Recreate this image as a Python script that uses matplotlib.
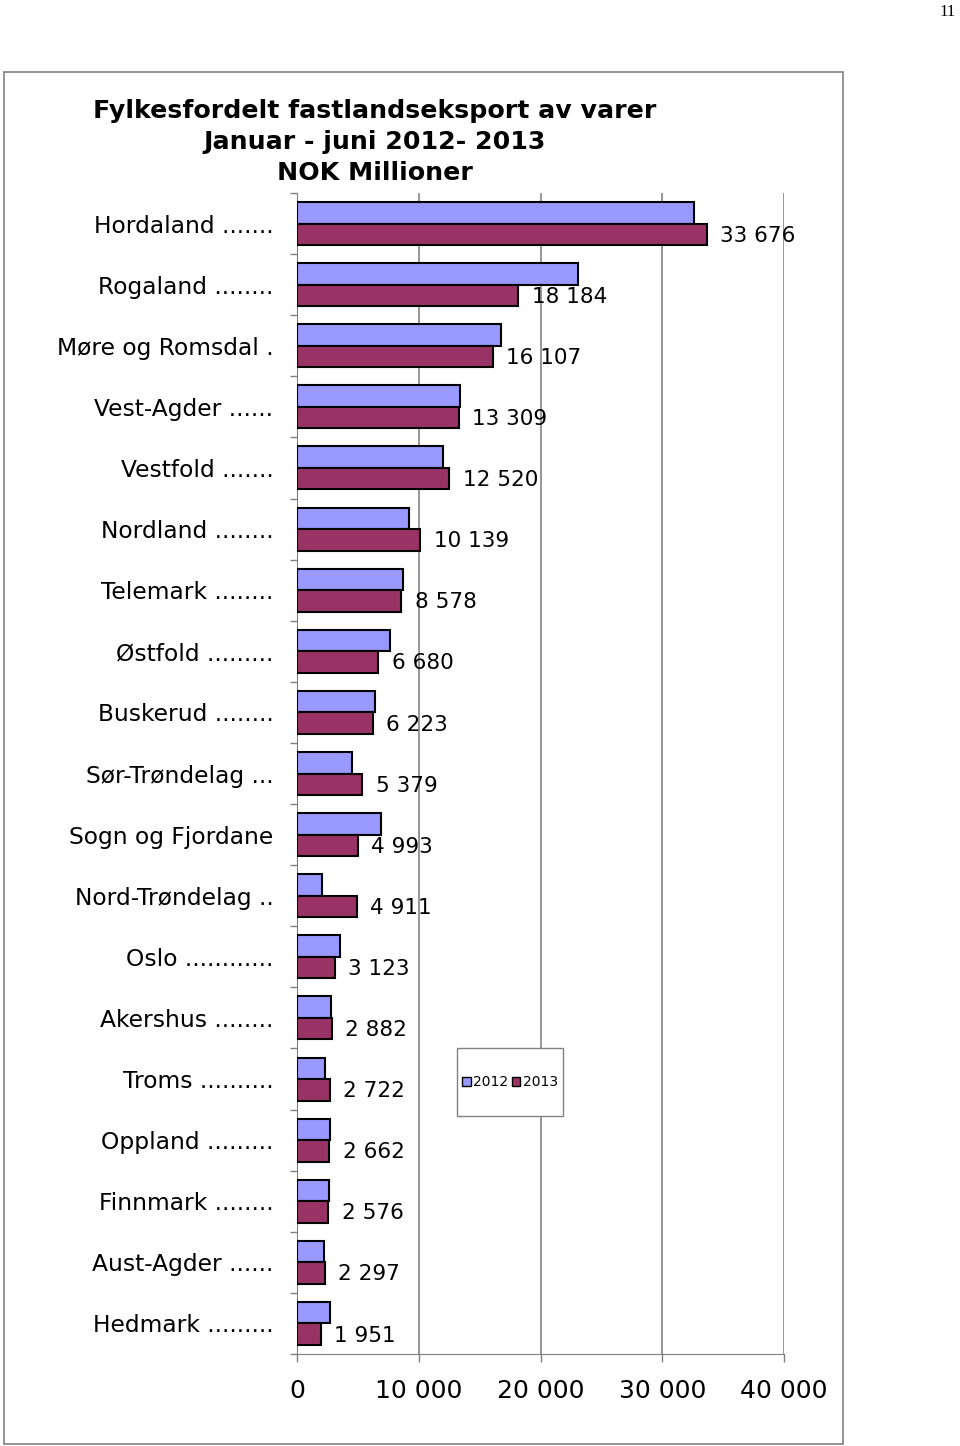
import numpy as np
import matplotlib
matplotlib.use("Agg")
import matplotlib.pyplot as plt
from matplotlib.patches import Rectangle, Patch

fylker = ["Hordaland .......", "Rogaland ........", "Møre og Romsdal .", "Vest-Agder ......",
          "Vestfold .......", "Nordland ........", "Telemark ........", "Østfold .........",
          "Buskerud ........", "Sør-Trøndelag ...", "Sogn og Fjordane", "Nord-Trøndelag ..",
          "Oslo ............", "Akershus ........", "Troms ..........", "Oppland .........",
          "Finnmark ........", "Aust-Agder ......", "Hedmark ........."]
v2012 = [32620, 23090, 16760, 13390, 12000, 9200, 8710, 7640, 6410, 4520,
         6900, 2050, 3530, 2790, 2300, 2710, 2630, 2220, 2710]
v2013 = [33676, 18184, 16107, 13309, 12520, 10139, 8578, 6680, 6223, 5379,
         4993, 4911, 3123, 2882, 2722, 2662, 2576, 2297, 1951]
xticks = [0, 10000, 20000, 30000, 40000]
title_lines = ["Fylkesfordelt fastlandseksport av varer", "Januar - juni 2012- 2013", "NOK Millioner"]

c2012 = "#9999FF"
c2013 = "#993366"

plt.rcParams['font.family'] = ['DejaVu Sans']

def fmt(v):
    return f"{v:,}".replace(",", " ")

fig = plt.figure(figsize=(9.6, 14.46), dpi=100)
ax = fig.add_axes([297/960, 1-1354/1446, (784-297)/960, (1354-193)/1446])

y = np.arange(len(fylker))
h = 0.352
ax.barh(y - h/2, v2012, height=h, color=c2012, edgecolor="black", linewidth=1.5, zorder=3)
ax.barh(y + h/2, v2013, height=h, color=c2013, edgecolor="black", linewidth=1.5, zorder=3)

for yi, v in zip(y, v2013):
    ax.annotate(fmt(v), (v, yi + h/2), xytext=(9.5, -1), textcoords="offset points",
                ha="left", va="center", fontsize=15.5, zorder=4)

ax.set_xlim(0, 40000)
ax.set_ylim(len(fylker) - 0.5, -0.5)

ax.set_xticks(xticks)
ax.set_xticklabels([fmt(t) for t in xticks], fontsize=18)
ax.tick_params(axis="x", length=6, width=1, color="#808080", pad=12)
ax.xaxis.grid(True, color="#7a7a7a", linewidth=1.1, zorder=0)

ax.set_yticks(y)
ax.set_yticklabels(fylker, fontsize=16.8)
ax.tick_params(axis="y", which="major", length=0, pad=17)
ax.set_yticks(np.arange(len(fylker) + 1) - 0.5, minor=True)
ax.tick_params(axis="y", which="minor", length=5, width=1, color="#808080")

for s in ["top", "right"]:
    ax.spines[s].set_visible(False)
ax.spines["left"].set_color("#808080")
ax.spines["bottom"].set_color("#808080")

for i, line in enumerate(title_lines):
    fig.text(375/960, 1 - (111 + 31*i)/1446, line, ha="center", va="center",
             fontsize=18.2, fontweight="bold")

# legend box
fig.patches.append(Rectangle((457/960, 1-1116/1446), 106/960, 68/1446, transform=fig.transFigure,
                             facecolor="white", edgecolor="#808080", linewidth=1, zorder=5))
handles = [Patch(facecolor=c2012, edgecolor="black"), Patch(facecolor=c2013, edgecolor="black")]
fig.legend(handles, ["2012", "2013"], loc="center", bbox_to_anchor=(510/960, 1-1082/1446),
           ncol=2, fontsize=10, frameon=False, handlelength=0.6, handleheight=0.6,
           handletextpad=0.15, columnspacing=0.3, borderaxespad=0)

# outer frame
fig.patches.append(Rectangle((4/960, 1-1444/1446), 839/960, 1372/1446, transform=fig.transFigure,
                             facecolor="none", edgecolor="#808080", linewidth=1.2))

fig.text(948/960, 1-12/1446, "11", ha="center", va="center", fontsize=12, family="Liberation Serif")

fig.savefig("out.png", dpi=100)
